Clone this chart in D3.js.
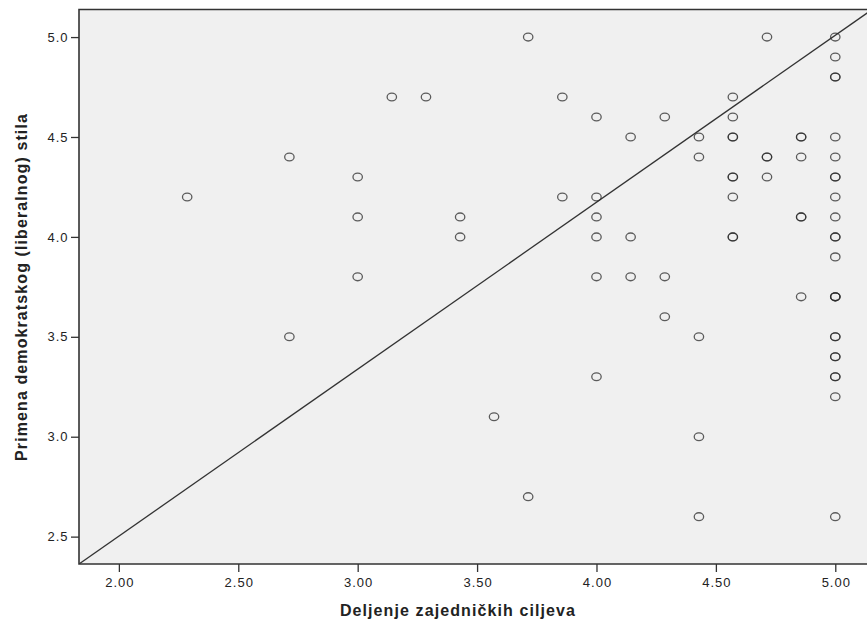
<!DOCTYPE html>
<html>
<head>
<meta charset="utf-8">
<script src="https://cdn.jsdelivr.net/npm/d3@7"></script>
<style>
  html, body { margin: 0; padding: 0; background: #ffffff; }
  svg { display: block; }
  text { font-family: "Liberation Sans", Arial, sans-serif; fill: #222; }
</style>
</head>
<body>
<svg id="chart" width="867" height="624"></svg>
<script>
// Observations: x = shared goals score, y = democratic (liberal) style score.
// Repeated pairs appear as separate entries (drawn on top of each other).
const xValues = [
  2.286,
  2.714, 2.714,
  3.000, 3.000, 3.000,
  3.143,
  3.286,
  3.429, 3.429,
  3.571,
  3.714, 3.714,
  3.857, 3.857,
  4.000, 4.000, 4.000, 4.000, 4.000, 4.000,
  4.143, 4.143, 4.143,
  4.286, 4.286, 4.286,
  4.429, 4.429, 4.429, 4.429, 4.429,
  4.571, 4.571, 4.571, 4.571, 4.571, 4.571, 4.571, 4.571, 4.571,
  4.714, 4.714, 4.714, 4.714,
  4.857, 4.857, 4.857, 4.857, 4.857, 4.857,
  5.000, 5.000, 5.000, 5.000, 5.000, 5.000, 5.000, 5.000, 5.000, 5.000,
  5.000, 5.000, 5.000, 5.000, 5.000, 5.000, 5.000, 5.000, 5.000, 5.000,
  5.000, 5.000, 5.000, 5.000
];
const yValues = [
  4.2,
  4.4, 3.5,
  4.3, 4.1, 3.8,
  4.7,
  4.7,
  4.1, 4.0,
  3.1,
  5.0, 2.7,
  4.7, 4.2,
  4.6, 4.2, 4.1, 4.0, 3.8, 3.3,
  4.5, 4.0, 3.8,
  4.6, 3.8, 3.6,
  4.5, 4.4, 3.5, 3.0, 2.6,
  4.7, 4.6, 4.5, 4.5, 4.3, 4.3, 4.2, 4.0, 4.0,
  5.0, 4.4, 4.4, 4.3,
  4.5, 4.5, 4.4, 4.1, 4.1, 3.7,
  5.0, 4.9, 4.8, 4.8, 4.5, 4.4, 4.3, 4.3, 4.2, 4.1,
  4.0, 4.0, 3.9, 3.7, 3.7, 3.7, 3.5, 3.5, 3.4, 3.4,
  3.3, 3.3, 3.2, 2.6
];

// Axis ticks
const xTicks = [2.00, 2.50, 3.00, 3.50, 4.00, 4.50, 5.00];
const yTicks = [2.5, 3.0, 3.5, 4.0, 4.5, 5.0];

// Axis ranges
const xDomain = [1.833, 5.137];
const yDomain = [2.363, 5.138];

// Reference line: y = intercept + slope * x
const lineIntercept = 0.8315;
const lineSlope = 0.8355;

const xTitle = "Deljenje zajedničkih ciljeva";
const yTitle = "Primena demokratskog (liberalnog) stila";

const svg = d3.select("#chart");
const plot = { left: 79, right: 868, top: 9.5, bottom: 564 };

const x = d3.scaleLinear().domain(xDomain).range([plot.left, plot.right]);
const y = d3.scaleLinear().domain(yDomain).range([plot.bottom, plot.top]);

// Plot background
svg.append("rect")
  .attr("x", plot.left).attr("y", plot.top)
  .attr("width", plot.right - plot.left).attr("height", plot.bottom - plot.top)
  .attr("fill", "#f0f0f0");

svg.append("clipPath").attr("id", "plotClip")
  .append("rect")
  .attr("x", plot.left).attr("y", plot.top)
  .attr("width", plot.right - plot.left).attr("height", plot.bottom - plot.top);

// Reference line across the plot area
const lineData = xDomain.map(v => ({ x: v, y: lineIntercept + lineSlope * v }));
svg.append("path")
  .datum(lineData)
  .attr("clip-path", "url(#plotClip)")
  .attr("fill", "none")
  .attr("stroke", "#333")
  .attr("stroke-width", 1.3)
  .attr("d", d3.line().x(d => x(d.x)).y(d => y(d.y)));

// Points
const points = xValues.map((v, i) => ({ x: v, y: yValues[i] }));
svg.append("g")
  .selectAll("ellipse")
  .data(points)
  .join("ellipse")
  .attr("cx", d => x(d.x))
  .attr("cy", d => y(d.y))
  .attr("rx", 4.7)
  .attr("ry", 3.9)
  .attr("fill", "none")
  .attr("stroke", "#2a2a2a")
  .attr("stroke-opacity", 0.75)
  .attr("stroke-width", 1.3);

// Axes
const xAxis = d3.axisBottom(x)
  .tickValues(xTicks)
  .tickFormat(d3.format(".2f"))
  .tickSize(8)
  .tickSizeOuter(0);
const yAxis = d3.axisLeft(y)
  .tickValues(yTicks)
  .tickFormat(d3.format(".1f"))
  .tickSize(8)
  .tickSizeOuter(0);

const gx = svg.append("g")
  .attr("transform", `translate(0,${plot.bottom})`)
  .call(xAxis);
const gy = svg.append("g")
  .attr("transform", `translate(${plot.left},0)`)
  .call(yAxis);

[gx, gy].forEach(g => {
  g.select(".domain").remove();
  g.selectAll(".tick line").attr("stroke", "#333").attr("stroke-width", 1.3);
  g.selectAll(".tick text")
    .attr("fill", "#333")
    .style("font-family", "'Liberation Sans', Arial, sans-serif")
    .style("font-size", "13px")
    .style("letter-spacing", "1px");
});
gx.selectAll(".tick text").attr("y", 8).attr("dy", "1.15em").attr("dx", 0.5);
gy.selectAll(".tick text").attr("x", -10.5);

// Frame: left, bottom and top edges
svg.append("path")
  .attr("fill", "none")
  .attr("stroke", "#333")
  .attr("stroke-width", 1.6)
  .attr("d", `M${plot.right},${plot.top}H${plot.left}V${plot.bottom}H${plot.right}`);

// Axis titles
svg.append("text")
  .attr("x", 458)
  .attr("y", 616)
  .attr("text-anchor", "middle")
  .style("font-size", "16px")
  .style("font-weight", "bold")
  .style("letter-spacing", "1.1px")
  .attr("fill", "#111")
  .text(xTitle);

svg.append("text")
  .attr("transform", `translate(27,${287}) rotate(-90)`)
  .attr("text-anchor", "middle")
  .style("font-size", "16px")
  .style("font-weight", "bold")
  .style("letter-spacing", "1.1px")
  .attr("fill", "#111")
  .text(yTitle);
</script>
</body>
</html>
